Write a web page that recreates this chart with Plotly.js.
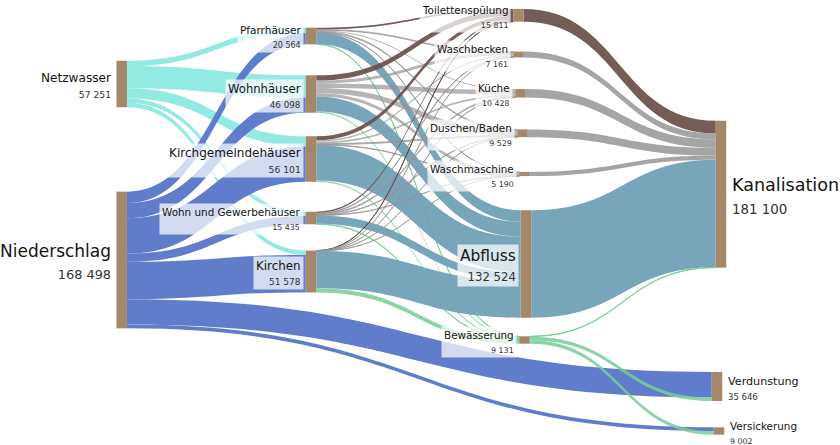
<!DOCTYPE html>
<html><head><meta charset="utf-8">
<script src="https://cdn.plot.ly/plotly-3.0.1.min.js"></script>
<style>html,body{margin:0;padding:0;background:#fff}#chart{width:840px;height:445px}</style>
</head><body><div id="chart"></div>
<script>
// ---------- data ----------
const nodeNames = ['Netzwasser','Niederschlag','Pfarrhäuser','Wohnhäuser','Kirchgemeindehäuser','Wohn und Gewerbehäuser','Kirchen','Toilettenspülung','Waschbecken','Küche','Duschen/Baden','Waschmaschine','Abfluss','Bewässerung','Kanalisation','Verdunstung','Versickerung'];
const nodeTotals = [57251,168498,20564,46098,56101,15435,51578,15811,7161,10428,9529,5190,132524,9131,181100,35646,9002];

const buildings = ['Pfarrhäuser','Wohnhäuser','Kirchgemeindehäuser','Wohn und Gewerbehäuser','Kirchen'];
const netzwasserToBuilding = [6500,27408,12500,5242,5601];
const niederschlagToBuilding = [14064,18690,43601,10193,45977];
const toilettenspuelung = [2200,6500,5000,1811,300];
const waschbecken = [900,3661,1800,700,100];
const kueche = [1300,5628,2300,1100,100];
const duschenBaden = [1100,6479,1200,700,50];
const waschmaschine = [500,3740,600,300,50];
const bewaesserung = [500,1400,1600,631,5000];
const abflussFromBuilding = [14064,18690,43601,10193,45976];

const usesToKanalisation = [15811,7161,10428,9529,5190];   // Toilette, Waschbecken, Küche, Duschen, Waschmaschine
const abflussToKanalisation = 132524;
const bewaesserungOut = [457,4300,4374];                     // Kanalisation, Verdunstung, Versickerung
const niederschlagDirect = [31346,4628];                     // Verdunstung, Versickerung

// ---------- layout constants (node placement, px in 840x445) ----------
const W = 840, H = 445;
const nodeXpx = [121.7,121.7,311,311,311,311,311,518.5,518.5,520.5,522.5,524.5,526,524.5,721,717,719];
const nodeYpx = [84,260,36,94,159,218,271.5,15.3,54.5,93.3,133.3,174,264,340,194.2,386.5,431];
const thick = 10.5;

const C = {
  netz:'rgba(132,231,222,0.88)', nied:'rgba(86,118,199,0.95)', toil:'rgba(105,80,75,0.92)',
  grey:'rgba(150,150,150,0.7)', abfl:'rgba(112,161,182,0.95)', bew:'rgba(118,206,150,0.85)',
  greyK:'rgba(160,160,160,0.95)', toilK:'rgba(112,88,82,0.97)'
};

const idx = n => nodeNames.indexOf(n);
const src=[], tgt=[], val=[], col=[];
function L(s,t,v,c){ src.push(idx(s)); tgt.push(idx(t)); val.push(v); col.push(c); }

buildings.forEach((b,i)=>L('Netzwasser',b,netzwasserToBuilding[i],C.netz));
buildings.forEach((b,i)=>L('Niederschlag',b,niederschlagToBuilding[i],C.nied));
L('Niederschlag','Verdunstung',niederschlagDirect[0],C.nied);
L('Niederschlag','Versickerung',niederschlagDirect[1],C.nied);
buildings.forEach((b,i)=>{
  L(b,'Abfluss',abflussFromBuilding[i],C.abfl);
  L(b,'Toilettenspülung',toilettenspuelung[i],C.toil);
  L(b,'Waschbecken',waschbecken[i],C.grey);
  L(b,'Küche',kueche[i],C.grey);
  L(b,'Duschen/Baden',duschenBaden[i],C.grey);
  L(b,'Waschmaschine',waschmaschine[i],C.grey);
  L(b,'Bewässerung',bewaesserung[i],C.bew);
});
['Toilettenspülung','Waschbecken','Küche','Duschen/Baden','Waschmaschine'].forEach((u,i)=>
  L(u,'Kanalisation',usesToKanalisation[i], i===0?C.toilK:C.greyK));
L('Abfluss','Kanalisation',abflussToKanalisation,C.abfl);
L('Bewässerung','Kanalisation',bewaesserungOut[0],C.bew);
L('Bewässerung','Verdunstung',bewaesserungOut[1],C.bew);
L('Bewässerung','Versickerung',bewaesserungOut[2],C.bew);

const fmt = v => String(v).replace(/\B(?=(\d{3})+(?!\d))/g,' ');
const nameSize = v => Math.max(10.4, 9.6 + v*4.4e-5);

const annotations = nodeNames.map((n,i)=>{
  const right = nodeXpx[i] > 700;
  const fs = nameSize(nodeTotals[i]);
  return {
    xref:'paper', yref:'paper',
    x: right ? (nodeXpx[i]+thick/2+3)/W : (nodeXpx[i]-thick/2-2)/W,
    y: 1-(nodeYpx[i]+1.5)/H,
    xanchor: right?'left':'right', yanchor:'middle', align: right?'left':'right',
    showarrow:false,
    text: n + '<br><span style="font-size:'+(fs*0.76).toFixed(1)+'px;color:#333">'+fmt(nodeTotals[i])+'</span>',
    font:{family:'DejaVu Sans, Verdana, sans-serif', size:fs, color:'#141414'},
    bgcolor: right?'rgba(255,255,255,0)':'rgba(255,255,255,0.72)', borderpad:2
  };
});

const trace = {
  type:'sankey', arrangement:'fixed', orientation:'h',
  domain:{x:[0,1], y:[0,1]},
  node:{
    label: nodeNames, pad:48.5, thickness:thick,
    x: nodeXpx.map(v=>v/W), y: nodeYpx.map(v=>v/H),
    color:'#a5876a', line:{width:0}
  },
  link:{source:src, target:tgt, value:val, color:col},
  textfont:{color:'rgba(0,0,0,0)', size:1}
};

Plotly.newPlot('chart',[trace],{
  width:W, height:H, margin:{l:0,r:0,t:0,b:0},
  paper_bgcolor:'#fff', annotations, showlegend:false,
  font:{family:'DejaVu Sans, Verdana, sans-serif'}
},{displayModeBar:false, staticPlot:true});
</script>
</body></html>
